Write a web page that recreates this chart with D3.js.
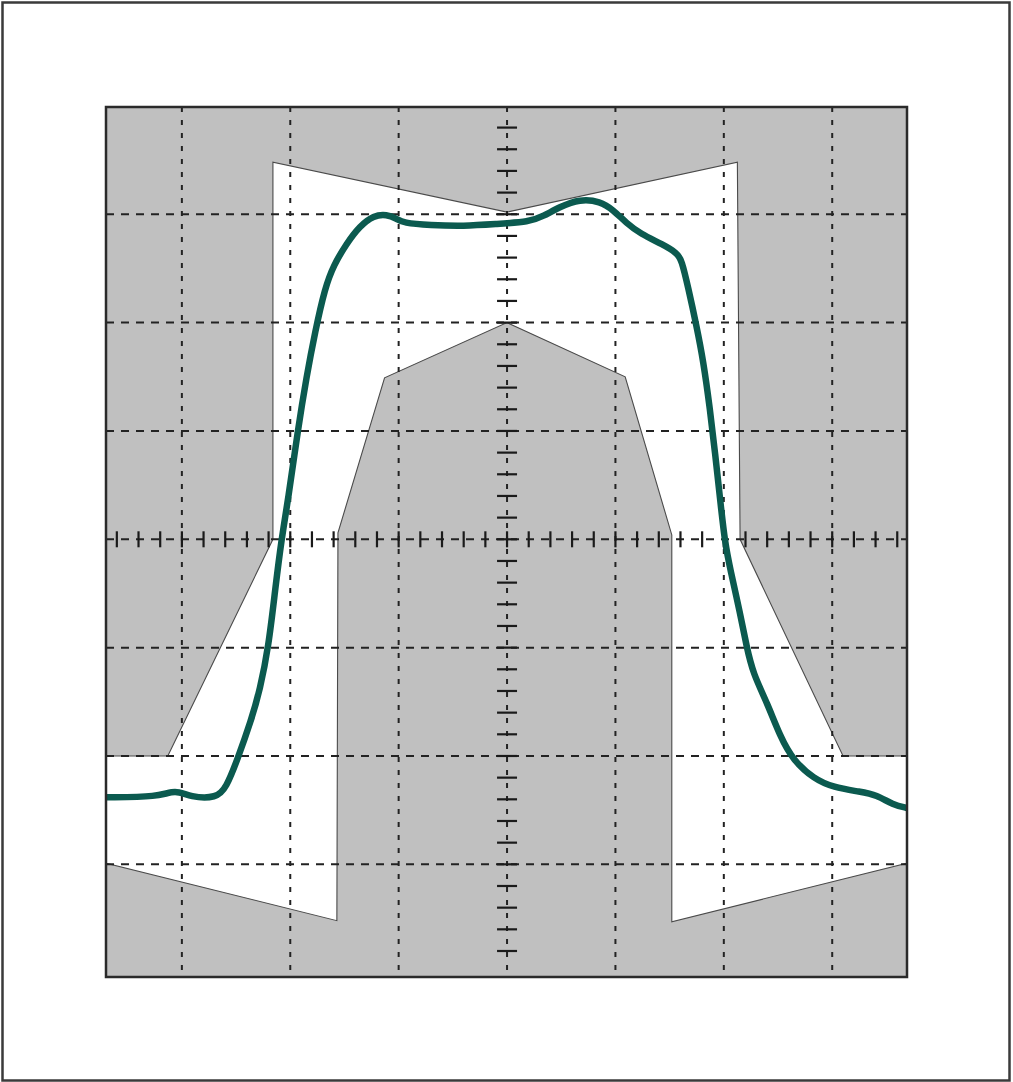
<!DOCTYPE html>
<html>
<head>
<meta charset="utf-8">
<script src="https://cdn.jsdelivr.net/npm/d3@7"></script>
<style>
  html, body { margin: 0; padding: 0; background: #fff; }
  #svg-container { width: 1013px; height: 1082px; }
</style>
</head>
<body>
<div id="svg-container"></div>
<script>
////////////////////////////////////////////////////////////////////
////////////////////////////  Data  ////////////////////////////////
// all values in scope divisions (centre of screen = 0,0)

// measured pulse (x, y)
const pulseX = [-3.70, -3.22, -3.06, -2.92, -2.68, -2.59, -2.49, -2.36, -2.28, -2.20,
  -2.14, -2.08, -2.02, -1.93, -1.85, -1.77, -1.68, -1.60, -1.48, -1.36,
  -1.23, -1.11, -1.02, -0.96, -0.71, -0.40, -0.10, 0.21, 0.33, 0.49,
  0.67, 0.86, 0.98, 1.10, 1.23, 1.44, 1.57, 1.61, 1.67, 1.75,
  1.81, 1.87, 1.92, 1.97, 2.01, 2.06, 2.15, 2.21, 2.27, 2.40,
  2.52, 2.64, 2.83, 3.01, 3.26, 3.41, 3.56, 3.69];
const pulseY = [-2.38, -2.38, -2.31, -2.38, -2.39, -2.29, -2.04, -1.67, -1.39, -0.99,
  -0.47, 0.01, 0.36, 1.01, 1.50, 1.92, 2.32, 2.53, 2.73, 2.89,
  2.99, 3.00, 2.96, 2.92, 2.90, 2.89, 2.91, 2.93, 2.98, 3.07,
  3.14, 3.12, 3.04, 2.92, 2.82, 2.72, 2.64, 2.58, 2.33, 1.96,
  1.65, 1.22, 0.79, 0.33, -0.03, -0.28, -0.68, -0.99, -1.24, -1.51,
  -1.82, -2.04, -2.21, -2.29, -2.33, -2.36, -2.45, -2.48];

// upper mask limit (gray above)
const upperMaskX = [-3.70, -3.70, -3.13, -2.16, -2.16, 0, 2.125, 2.15, 3.10, 3.69, 3.69];
const upperMaskY = [3.99, -2.00, -2.00, 0, 3.48, 3.02, 3.48, 0, -2.00, -2.00, 3.99];

// lower mask limit (gray below)
const lowerMaskX = [-3.70, -3.70, -1.57, -1.56, -1.13, 0, 1.09, 1.52, 1.52, 3.69, 3.69];
const lowerMaskY = [-4.04, -2.99, -3.52, 0.06, 1.49, 2.00, 1.50, 0.04, -3.53, -2.99, -4.04];

// graticule
const gridX = [-3, -2, -1, 0, 1, 2, 3];
const gridY = [-3, -2, -1, 0, 1, 2, 3];
const minorTicksX = d3.range(-18, 19).map((d) => d / 5); // every 0.2 div
const minorTicksY = d3.range(-19, 20).map((d) => d / 5);

////////////////////////////////////////////////////////////////////
////////////////////////////  Init  ///////////////////////////////
const width = 1013;
const height = 1082;
const plot = { left: 106, right: 907, top: 107, bottom: 977 };

const svg = d3
  .select("#svg-container")
  .append("svg")
  .attr("width", width)
  .attr("height", height);

// scale
const xScale = d3.scaleLinear().domain([-3.70, 3.69]).range([plot.left, plot.right]);
const yScale = d3.scaleLinear().domain([-4.04, 3.99]).range([plot.bottom, plot.top]);

// outer frame
svg
  .append("rect")
  .attr("x", 2.5)
  .attr("y", 2.5)
  .attr("width", 1007)
  .attr("height", 1078)
  .attr("fill", "#fff")
  .attr("stroke", "#3a3a3a")
  .attr("stroke-width", 2.5);

// plot background
svg
  .append("rect")
  .attr("x", plot.left)
  .attr("y", plot.top)
  .attr("width", plot.right - plot.left)
  .attr("height", plot.bottom - plot.top)
  .attr("fill", "#fff");

////////////////////////////////////////////////////////////////////
////////////////////////////  Mask  ///////////////////////////////
const maskLine = d3
  .line()
  .x((d) => xScale(d[0]))
  .y((d) => yScale(d[1]));

const masks = [
  d3.zip(upperMaskX, upperMaskY),
  d3.zip(lowerMaskX, lowerMaskY),
];

svg
  .selectAll(".mask")
  .data(masks)
  .join("path")
  .attr("class", "mask")
  .attr("d", (d) => maskLine(d) + "Z")
  .attr("fill", "#c0c0c0")
  .attr("stroke", "#4a4a4a")
  .attr("stroke-width", 1.1);

////////////////////////////////////////////////////////////////////
////////////////////////////  Graticule  //////////////////////////
svg
  .selectAll(".vgrid")
  .data(gridX)
  .join("line")
  .attr("class", "vgrid")
  .attr("x1", (d) => xScale(d))
  .attr("x2", (d) => xScale(d))
  .attr("y1", plot.top)
  .attr("y2", plot.bottom)
  .attr("stroke", "#222")
  .attr("stroke-width", 2)
  .attr("stroke-dasharray", "5,8");

svg
  .selectAll(".hgrid")
  .data(gridY)
  .join("line")
  .attr("class", "hgrid")
  .attr("x1", plot.left)
  .attr("x2", plot.right)
  .attr("y1", (d) => yScale(d))
  .attr("y2", (d) => yScale(d))
  .attr("stroke", "#222")
  .attr("stroke-width", 2)
  .attr("stroke-dasharray", "8,7");

// minor ticks on centre axes
svg
  .selectAll(".tickx")
  .data(minorTicksX)
  .join("line")
  .attr("class", "tickx")
  .attr("x1", (d) => xScale(d))
  .attr("x2", (d) => xScale(d))
  .attr("y1", yScale(0) - 8)
  .attr("y2", yScale(0) + 8)
  .attr("stroke", "#1a1a1a")
  .attr("stroke-width", 2.2);

svg
  .selectAll(".ticky")
  .data(minorTicksY)
  .join("line")
  .attr("class", "ticky")
  .attr("x1", xScale(0) - 10)
  .attr("x2", xScale(0) + 10)
  .attr("y1", (d) => yScale(d))
  .attr("y2", (d) => yScale(d))
  .attr("stroke", "#1a1a1a")
  .attr("stroke-width", 2.2);

////////////////////////////////////////////////////////////////////
////////////////////////////  Pulse  //////////////////////////////
const pulseLine = d3
  .line()
  .curve(d3.curveBasis)
  .x((d) => xScale(d[0]))
  .y((d) => yScale(d[1]));

svg
  .append("path")
  .datum(d3.zip(pulseX, pulseY))
  .attr("d", pulseLine)
  .attr("fill", "none")
  .attr("stroke", "#0b5a4f")
  .attr("stroke-width", 6.5)
  .attr("stroke-linejoin", "round")
  .attr("stroke-linecap", "butt");

// plot border
svg
  .append("rect")
  .attr("x", plot.left)
  .attr("y", plot.top)
  .attr("width", plot.right - plot.left)
  .attr("height", plot.bottom - plot.top)
  .attr("fill", "none")
  .attr("stroke", "#2a2a2a")
  .attr("stroke-width", 2.5);
</script>
</body>
</html>
